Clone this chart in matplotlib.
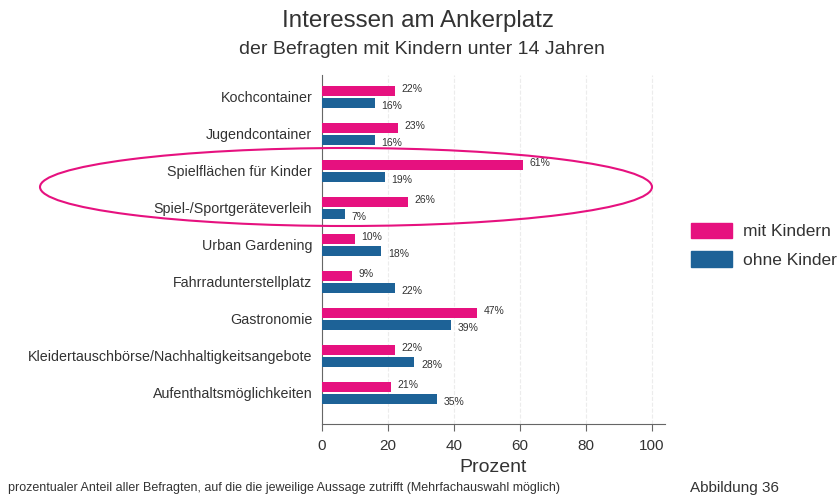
import matplotlib.pyplot as plt
from matplotlib.patches import Ellipse, Patch
import numpy as np

plt.rcParams['font.family'] = ['Liberation Sans', 'DejaVu Sans']

kategorien = ["Kochcontainer", "Jugendcontainer", "Spielflächen für Kinder",
              "Spiel-/Sportgeräteverleih", "Urban Gardening", "Fahrradunterstellplatz",
              "Gastronomie", "Kleidertauschbörse/Nachhaltigkeitsangebote",
              "Aufenthaltsmöglichkeiten"]
mit_kindern = [22, 23, 61, 26, 10, 9, 47, 22, 21]
ohne_kinder = [16, 16, 19, 7, 18, 22, 39, 28, 35]
xticks = [0, 20, 40, 60, 80, 100]

pink = '#e6117f'
blau = '#1d6297'
grau = '#333333'

fig = plt.figure(figsize=(8.4, 4.98), dpi=100)
ax = fig.add_axes([322/840, 1-424/498, 343/840, 349/498])

y = np.arange(len(kategorien))
h = 0.27
ax.barh(y - 0.16, mit_kindern, height=h, color=pink, zorder=3)
ax.barh(y + 0.16, ohne_kinder, height=h, color=blau, zorder=3)

for i in range(len(kategorien)):
    ax.text(mit_kindern[i] + 2, y[i] - 0.22, f"{mit_kindern[i]}%", fontsize=7.5,
            color=grau, va='center', ha='left')
    ax.text(ohne_kinder[i] + 2, y[i] + 0.24, f"{ohne_kinder[i]}%", fontsize=7.5,
            color=grau, va='center', ha='left')

ax.set_ylim(8.84, -0.59)
ax.set_xlim(0, 104)
ax.set_yticks(y)
ax.set_yticklabels(kategorien, fontsize=10.3, color=grau)
ax.tick_params(axis='y', length=0, pad=7)
ax.set_xticks(xticks)
ax.set_xticklabels([str(t) for t in xticks], fontsize=11, color=grau)
ax.tick_params(axis='x', length=5, color='#666666', pad=6)
ax.set_xlabel("Prozent", fontsize=14, color=grau, labelpad=4)
ax.xaxis.grid(True, linestyle='--', color='#ececec', lw=0.8, zorder=0)
for s in ['top', 'right']:
    ax.spines[s].set_visible(False)
ax.spines['left'].set_color('#666666')
ax.spines['bottom'].set_color('#666666')

fig.text(418/840, 1-21/498, "Interessen am Ankerplatz", fontsize=17.4, color=grau,
         ha='center', va='center')
fig.text(422/840, 1-50/498, "der Befragten mit Kindern unter 14 Jahren", fontsize=14,
         color=grau, ha='center', va='center')

ell = Ellipse((346/840, 1-187/498), 612/840, 78/498, transform=fig.transFigure,
              fill=False, edgecolor=pink, lw=1.5)
fig.add_artist(ell)

handles = [Patch(color=pink, label="mit Kindern"), Patch(color=blau, label="ohne Kinder")]
fig.legend(handles=handles, loc='upper left', bbox_to_anchor=(675/840, 1-207/498),
           frameon=False, fontsize=12.5, handlelength=2.4, handleheight=1.0,
           handletextpad=0.6, labelspacing=0.7, labelcolor=grau)

fig.text(8/840, 1-488/498, "prozentualer Anteil aller Befragten, auf die die jeweilige Aussage zutrifft (Mehrfachauswahl möglich)",
         fontsize=9, color=grau, ha='left', va='center')
fig.text(690/840, 1-488/498, "Abbildung 36", fontsize=11, color=grau, ha='left', va='center')

fig.savefig("out.png", dpi=100)
